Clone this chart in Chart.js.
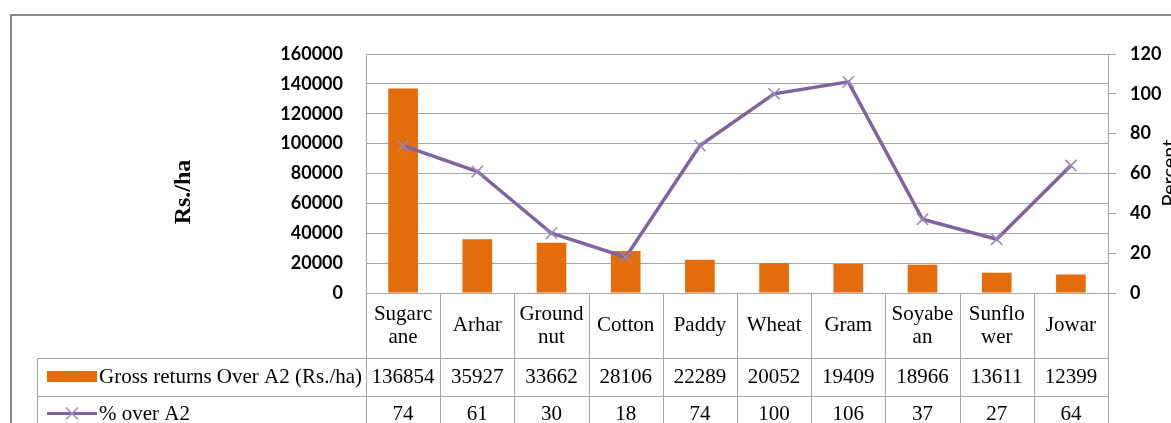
<!DOCTYPE html>
<html>
<head>
<meta charset="utf-8">
<script src="https://cdn.jsdelivr.net/npm/chart.js@4.4.0/dist/chart.umd.min.js"></script>
<style>
html, body { margin: 0; padding: 0; background: #fff; overflow: hidden; }
</style>
</head>
<body>
<canvas id="myChart" width="1171" height="423"></canvas>
<script>
// data
const categories = ['Sugarcane', 'Arhar', 'Groundnut', 'Cotton', 'Paddy', 'Wheat', 'Gram', 'Soyabean', 'Sunflower', 'Jowar'];
const categoryLines = [['Sugarc', 'ane'], ['Arhar'], ['Ground', 'nut'], ['Cotton'], ['Paddy'], ['Wheat'], ['Gram'], ['Soyabe', 'an'], ['Sunflo', 'wer'], ['Jowar']];
const grossReturns = [136854, 35927, 33662, 28106, 22289, 20052, 19409, 18966, 13611, 12399];
const percentOverA2 = [74, 61, 30, 18, 74, 100, 106, 37, 27, 64];
const barLabel = 'Gross returns Over A2 (Rs./ha)';
const lineLabel = '% over A2';
const leftTitle = 'Rs./ha';
const rightTitle = 'Percent';

const BAR_COLOR = '#E46C0A';
const LINE_COLOR = '#8064A2';
const GRID = '#a6a6a6';
const SERIF = '"Liberation Serif", "Times New Roman", serif';

const tablePlugin = {
    id: 'dataTable',
    afterDraw(chart) {
        const ctx = chart.ctx;
        const xs = chart.scales.x;
        const area = chart.chartArea;
        const colW = (area.right - area.left) / categories.length;
        const top = area.bottom;
        const row1 = 358.5, row2 = 396.5, bottom = 450;
        const tableLeft = 37.5;

        ctx.save();

        // outer chart border
        ctx.strokeStyle = '#8a8a8a';
        ctx.lineWidth = 2;
        ctx.strokeRect(11, 15, 1300, 600);

        // table lines
        ctx.strokeStyle = GRID;
        ctx.lineWidth = 1;
        ctx.beginPath();
        for (let i = 0; i <= categories.length; i++) {
            const x = Math.round(area.left + i * colW) + 0.5;
            ctx.moveTo(x, top);
            ctx.lineTo(x, bottom);
        }
        ctx.moveTo(tableLeft, row1); ctx.lineTo(area.right, row1);
        ctx.moveTo(tableLeft, row2); ctx.lineTo(area.right, row2);
        ctx.moveTo(tableLeft, row1); ctx.lineTo(tableLeft, bottom);
        ctx.stroke();

        // table text
        ctx.fillStyle = '#000';
        ctx.font = '21px ' + SERIF;
        ctx.textAlign = 'center';
        ctx.textBaseline = 'middle';
        categories.forEach((c, i) => {
            const cx = xs.getPixelForValue(i);
            const lines = categoryLines[i];
            const mid = (top + row1) / 2;
            lines.forEach((ln, k) => {
                ctx.fillText(ln, cx, mid + (k - (lines.length - 1) / 2) * 23);
            });
            ctx.fillText(String(grossReturns[i]), cx, (row1 + row2) / 2);
            ctx.fillText(String(percentOverA2[i]), cx, row2 + 18);
        });

        // legend keys
        ctx.fillStyle = BAR_COLOR;
        ctx.fillRect(47, 371, 50, 11);
        ctx.strokeStyle = LINE_COLOR;
        ctx.lineWidth = 3;
        ctx.beginPath();
        ctx.moveTo(47, row2 + 17); ctx.lineTo(97, row2 + 17);
        ctx.stroke();
        ctx.strokeStyle = '#a18fc4';
        ctx.lineWidth = 1.5;
        ctx.beginPath();
        ctx.moveTo(66, row2 + 11); ctx.lineTo(78, row2 + 23);
        ctx.moveTo(78, row2 + 11); ctx.lineTo(66, row2 + 23);
        ctx.stroke();

        ctx.fillStyle = '#000';
        ctx.textAlign = 'left';
        ctx.fillText(barLabel, 99, (row1 + row2) / 2);
        ctx.fillText(lineLabel, 99, row2 + 18);

        // axis titles
        ctx.save();
        ctx.translate(184, 192);
        ctx.rotate(-Math.PI / 2);
        ctx.textAlign = 'center';
        ctx.font = 'bold 24px ' + SERIF;
        ctx.fillText(leftTitle, 0, 0);
        ctx.restore();

        ctx.save();
        ctx.translate(1170, 173);
        ctx.rotate(-Math.PI / 2);
        ctx.textAlign = 'center';
        ctx.font = '20px Lato';
        ctx.fillText(rightTitle, 0, 0);
        ctx.restore();

        ctx.restore();
    }
};

const ctx = document.getElementById('myChart').getContext('2d');

const myChart = new Chart(ctx, {
    type: 'bar',
    data: {
        labels: categories,
        datasets: [{
            type: 'line',
            label: lineLabel,
            data: percentOverA2,
            yAxisID: 'y2',
            borderColor: LINE_COLOR,
            borderWidth: 3.5,
            pointStyle: 'crossRot',
            pointRadius: 8,
            pointBorderWidth: 1.5,
            pointBorderColor: '#9a86c0',
            tension: 0,
            order: 0
        }, {
            type: 'bar',
            label: barLabel,
            data: grossReturns,
            yAxisID: 'y',
            backgroundColor: BAR_COLOR,
            barPercentage: 0.4,
            categoryPercentage: 1,
            order: 1
        }]
    },
    options: {
        responsive: false,
        devicePixelRatio: 1,
        animation: false,
        layout: {
            padding: { top: 54, bottom: 130, left: 0, right: 0 }
        },
        plugins: {
            legend: { display: false },
            tooltip: { enabled: false }
        },
        scales: {
            x: {
                display: false
            },
            y: {
                position: 'left',
                min: 0,
                max: 160000,
                ticks: {
                    stepSize: 20000,
                    padding: 23,
                    color: '#000',
                    font: { family: 'Lato', size: 18, weight: 'bold' },
                    callback: (v) => String(v)
                },
                grid: { color: GRID, drawTicks: false },
                border: { color: GRID },
                afterFit: (s) => { s.width = 366; }
            },
            y2: {
                position: 'right',
                min: 0,
                max: 120,
                ticks: {
                    stepSize: 20,
                    padding: 14,
                    color: '#000',
                    font: { family: 'Lato', size: 18, weight: 'bold' },
                    callback: (v) => String(v)
                },
                grid: { drawOnChartArea: false, color: GRID, tickLength: 8 },
                border: { color: GRID },
                afterFit: (s) => { s.width = 63; }
            }
        }
    },
    plugins: [tablePlugin]
});
</script>
</body>
</html>
